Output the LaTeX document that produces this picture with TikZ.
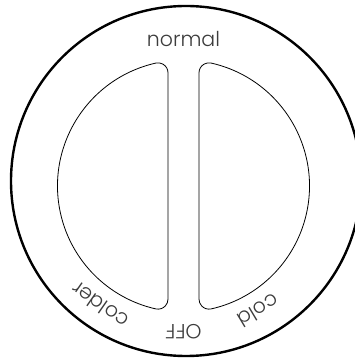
\documentclass[tikz,border=0pt]{standalone}
\usepackage{fontspec}
\setmainfont{Poppins}[UprightFont={* Light}]
\usepackage{tikz}
\usetikzlibrary{calc}
\definecolor{Dial_Black}{HTML}{000000}
\definecolor{Dial_Gray}{HTML}{3C3C3C}

\begin{document}
\begin{tikzpicture}[x=1pt, y=1pt,
    dialtext/.style={font=\fontsize{20.5}{23}\selectfont, text=Dial_Gray, anchor=base, inner sep=0pt},
    rim/.style={line width=2.4pt, Dial_Black},
    half/.style={line width=0.8pt, Dial_Black}]
    \useasboundingbox (0,0) rectangle (355,358);
    \clip (0,0) rectangle (355,358);

    % Outer rim
    \draw[rim] (186,177) circle (175);

    % Knob centre
    \coordinate (hub) at (183.5,172);

    % Left half
    \draw[half] (168,58.84) -- (168,285.16)
        arc[start angle=0, end angle=102.7, radius=10]
        arc[start angle=102.7, end angle=257.3, radius=126]
        arc[start angle=257.3, end angle=360, radius=10] -- cycle;

    % Right half
    \draw[half] (199,58.84) -- (199,285.16)
        arc[start angle=180, end angle=77.3, radius=10]
        arc[start angle=77.3, end angle=-77.3, radius=126]
        arc[start angle=-77.3, end angle=-180, radius=10] -- cycle;

    % Settings
    \node[dialtext, rotate=0] (normal) at ($(hub)+(90:139)$) {normal};
    \node[dialtext, rotate=145] (colder) at ($(hub)+(235:138)$) {colder};
    \node[dialtext, rotate=180] (off) at ($(hub)+(270:139)$) {OFF};
    \node[dialtext, rotate=211] (cold) at ($(hub)+(301:138)$) {cold};
\end{tikzpicture}
\end{document}
